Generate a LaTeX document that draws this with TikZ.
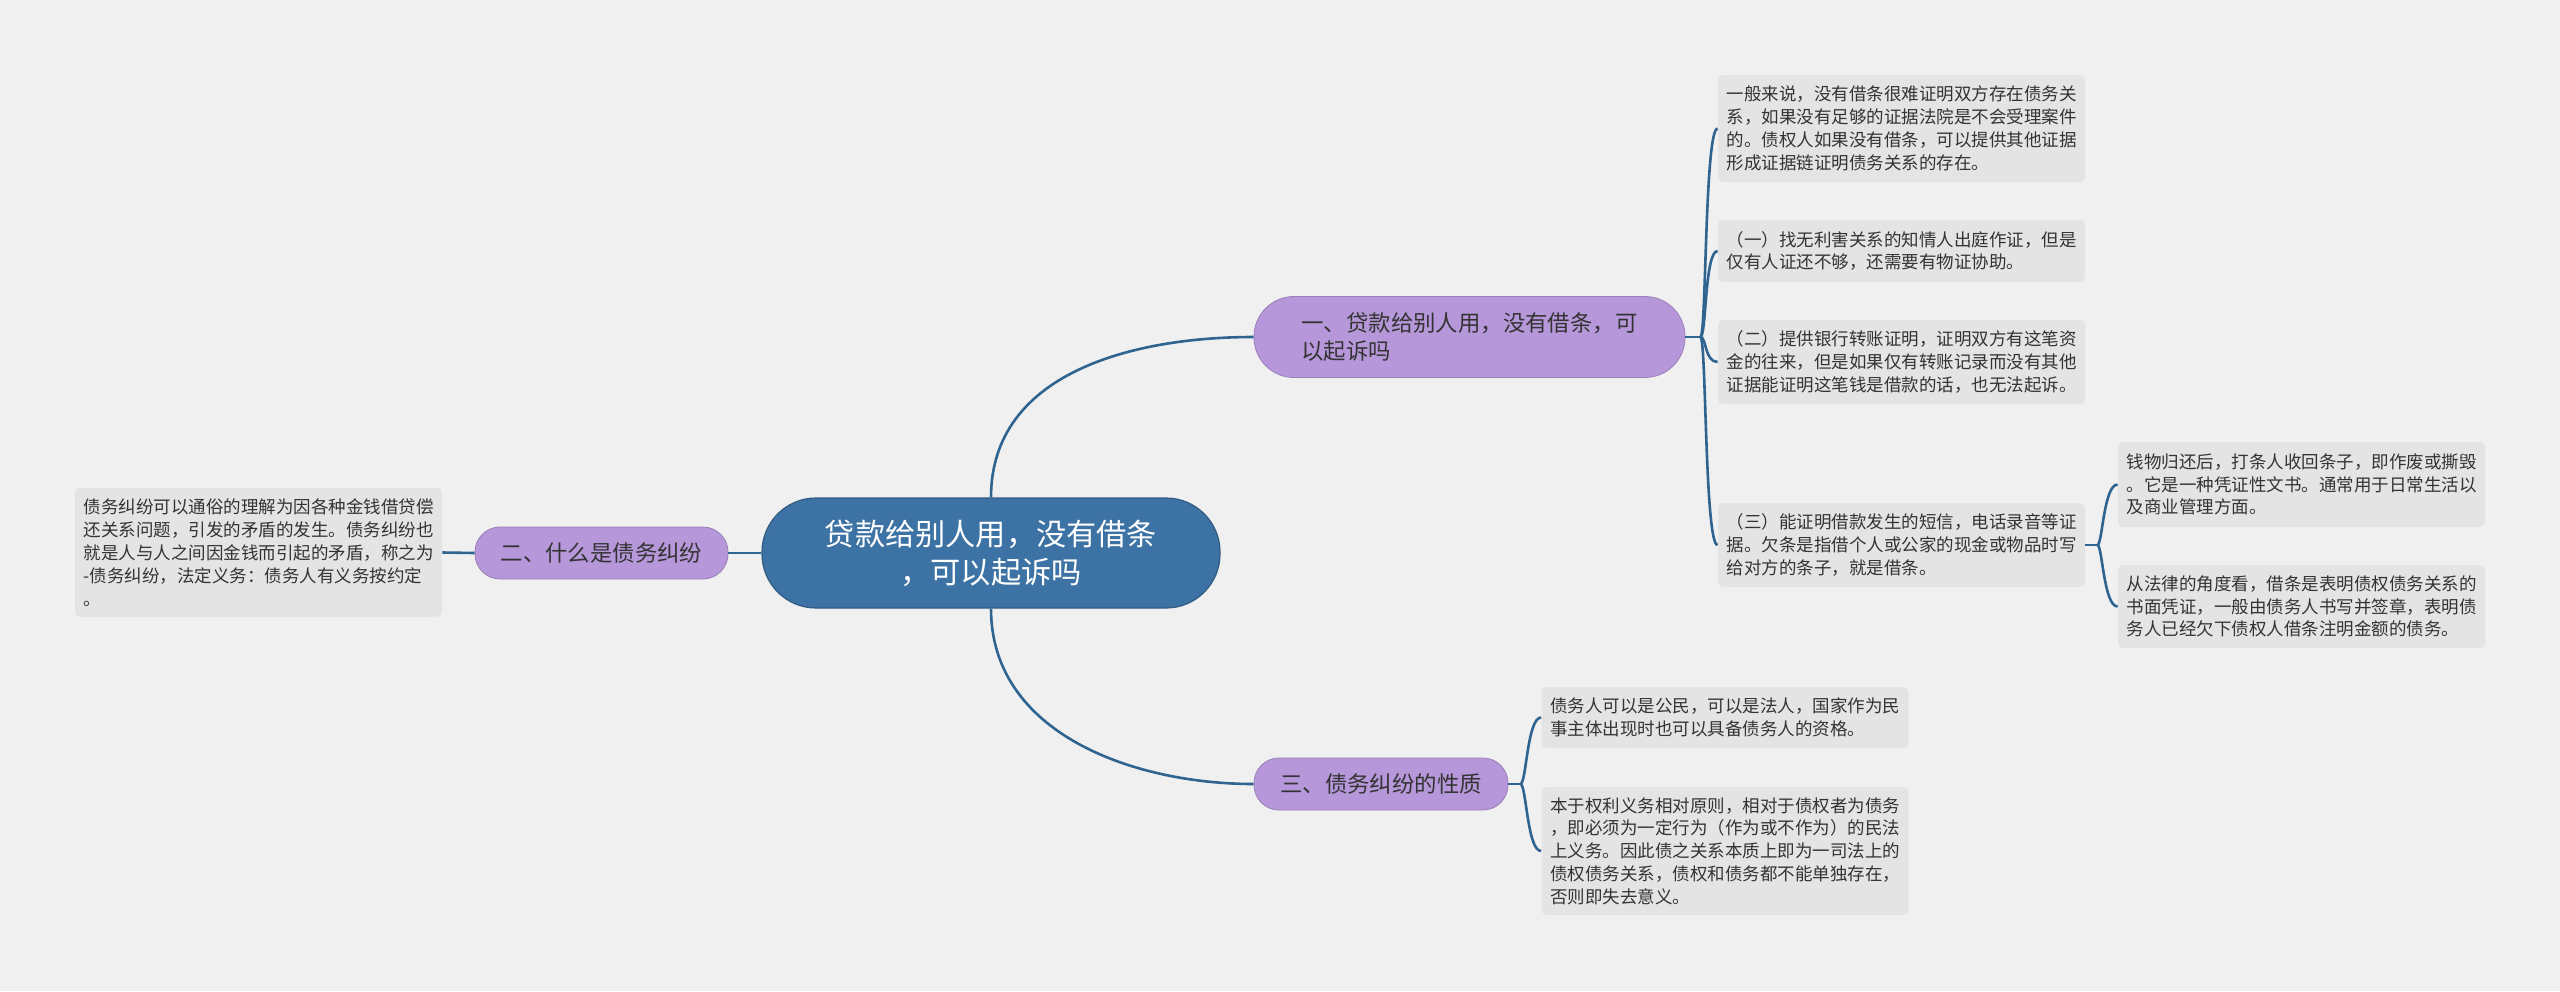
\documentclass[tikz,border=0pt]{standalone}
\usepackage{fontspec}
\setmainfont{Noto Sans CJK SC}
\usetikzlibrary{positioning}
\definecolor{bg}{HTML}{F0F0F0}
\definecolor{rootblue}{HTML}{3D72A4}
\definecolor{lilac}{HTML}{B697D9}
\definecolor{leafgray}{HTML}{E4E4E4}
\definecolor{linkblue}{HTML}{2F6491}
\definecolor{ink}{HTML}{333333}

\begin{document}
\begin{tikzpicture}[x=0.5pt, y=-0.5pt]
  \tikzstyle{rootnode}=[fill=rootblue, draw=rootblue!80!black, line width=0.6pt, rounded corners=27pt, text=white, align=center, inner sep=0pt, font=\fontsize{15.1pt}{19pt}\selectfont]
  \tikzstyle{topic}=[fill=lilac, draw=lilac!85!black, line width=0.4pt, text=ink, align=left, inner sep=0pt, font=\fontsize{11.2pt}{14pt}\selectfont]
  \tikzstyle{leaf}=[fill=leafgray, rounded corners=2.5pt, text=ink, align=left, inner sep=0pt, minimum width=183.5pt, font=\fontsize{8.75pt}{11.4pt}\selectfont]
  \tikzstyle{link}=[draw=linkblue, line width=1.3pt]

  \fill[bg] (0,0) rectangle (2560,991);

  % centre and main topics
  \node[rootnode, minimum width=229pt, minimum height=55pt] (R) at (991,553) {贷款给别人用，没有借条\\，可以起诉吗};
  \node[topic, rounded corners=20pt, minimum width=215.5pt, minimum height=40.5pt] (B1) at (1469.5,337) {一、贷款给别人用，没有借条，可\\以起诉吗};
  \node[topic, rounded corners=12.5pt, minimum width=126.5pt, minimum height=26pt] (B2) at (601.5,553) {二、什么是债务纠纷};
  \node[topic, rounded corners=12.5pt, minimum width=127pt, minimum height=26pt] (B3) at (1381,784) {三、债务纠纷的性质};

  % leaves of the first topic
  \node[leaf, minimum height=53.5pt] (L1) at (1901.5,128.5) {一般来说，没有借条很难证明双方存在债务关\\系，如果没有足够的证据法院是不会受理案件\\的。债权人如果没有借条，可以提供其他证据\\形成证据链证明债务关系的存在。};
  \node[leaf, minimum height=31pt] (L2) at (1901.5,251) {（一）找无利害关系的知情人出庭作证，但是\\仅有人证还不够，还需要有物证协助。};
  \node[leaf, minimum height=42pt] (L3) at (1901.5,362) {（二）提供银行转账证明，证明双方有这笔资\\金的往来，但是如果仅有转账记录而没有其他\\证据能证明这笔钱是借款的话，也无法起诉。};
  \node[leaf, minimum height=42pt] (L4) at (1901.5,545) {（三）能证明借款发生的短信，电话录音等证\\据。欠条是指借个人或公家的现金或物品时写\\给对方的条子，就是借条。};
  \node[leaf, minimum height=42.5pt] (S1) at (2301.5,484.5) {钱物归还后，打条人收回条子，即作废或撕毁\\。它是一种凭证性文书。通常用于日常生活以\\及商业管理方面。};
  \node[leaf, minimum height=41.5pt] (S2) at (2301.5,606.5) {从法律的角度看，借条是表明债权债务关系的\\书面凭证，一般由债务人书写并签章，表明债\\务人已经欠下债权人借条注明金额的债务。};

  \node[leaf, minimum height=64.5pt] (D1) at (258.5,552.5) {债务纠纷可以通俗的理解为因各种金钱借贷偿\\还关系问题，引发的矛盾的发生。债务纠纷也\\就是人与人之间因金钱而引起的矛盾，称之为\\-债务纠纷，法定义务：债务人有义务按约定\\。};

  \node[leaf, minimum height=30.5pt] (T1) at (1725,717.5) {债务人可以是公民，可以是法人，国家作为民\\事主体出现时也可以具备债务人的资格。};
  \node[leaf, minimum height=64pt] (T2) at (1725,851) {本于权利义务相对原则，相对于债权者为债务\\，即必须为一定行为（作为或不作为）的民法\\上义务。因此债之关系本质上即为一司法上的\\债权债务关系，债权和债务都不能单独存在，\\否则即失去意义。};

  % connectors from the centre
  \draw[link] (R.north) .. controls +(0,-125) and +(-120,0) .. (B1.west);
  \draw[link] (R.south) .. controls +(0,125) and +(-120,0) .. (B3.west);
  \draw[link] (R.west) -- (B2.east);
  \draw[link] (B2.west) -- (D1.east);

  % bracket joints
  \coordinate (J1) at ([xshift=7.5pt]B1.east);
  \coordinate (J3) at ([xshift=6pt]B3.east);
  \coordinate (J4) at ([xshift=6pt]L4.east);
  \draw[link] (B1.east) -- (J1);
  \draw[link] (B3.east) -- (J3);
  \draw[link] (L4.east) -- (J4);
  \foreach \leafname in {L1,L2,L3,L4}
    \draw[link] (J1) .. controls +(6,0) and +(-13,0) .. (\leafname.west);
  \foreach \leafname in {S1,S2}
    \draw[link] (J4) .. controls +(5,0) and +(-14,0) .. (\leafname.west);
  \foreach \leafname in {T1,T2}
    \draw[link] (J3) .. controls +(6,0) and +(-14,0) .. (\leafname.west);
\end{tikzpicture}
\end{document}
